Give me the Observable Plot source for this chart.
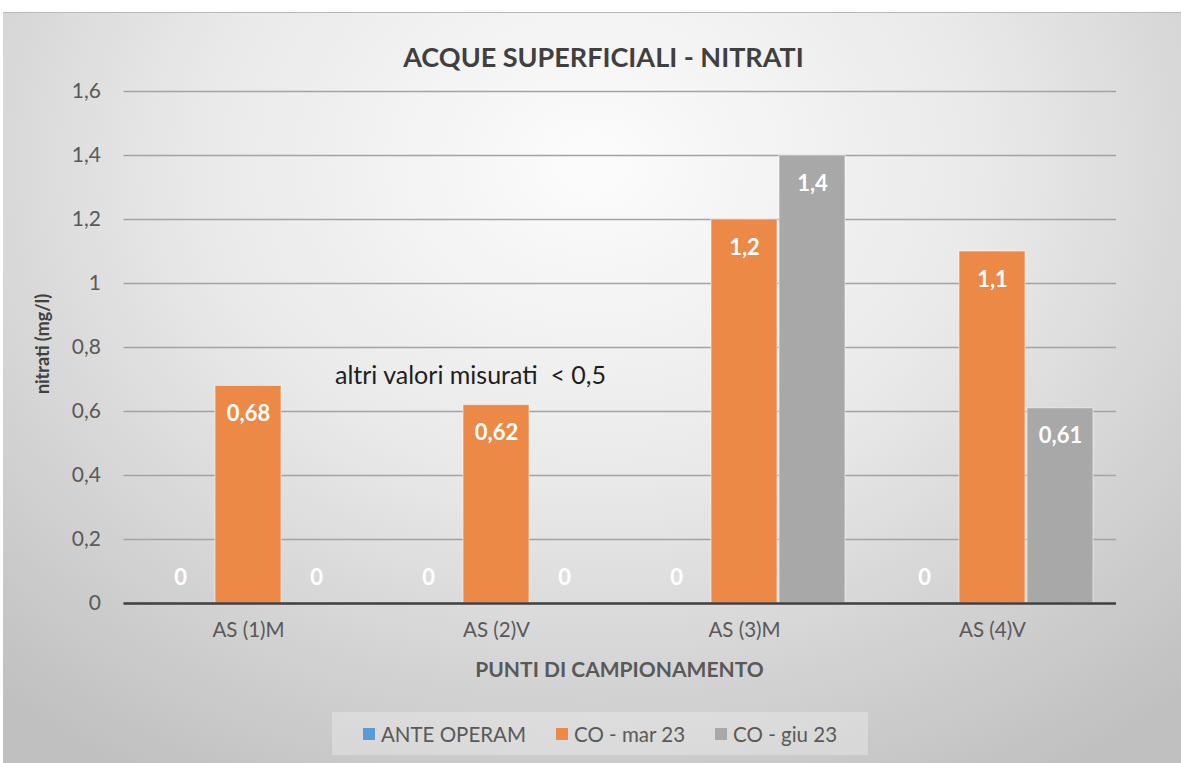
<!DOCTYPE html>
<html>
<head>
<meta charset="utf-8">
<script src="https://cdn.jsdelivr.net/npm/d3@7"></script>
<script src="https://cdn.jsdelivr.net/npm/@observablehq/plot@0.6"></script>
<style>
  html, body { margin: 0; padding: 0; background: #ffffff; }
  #page { position: relative; width: 1181px; height: 763px; overflow: hidden; font-family: Lato, "Open Sans", sans-serif; }
  #bg { position: absolute; left: 3px; top: 12px; width: 1178px; height: 751px;
        background: radial-gradient(ellipse 75% 95% at 50% 20%, #fcfcfc 0%, #e9e9e9 45%, #d2d2d2 75%, #c0c0c0 100%);
        border-top: 1px solid #b8b8b8; }
  #title { position: absolute; top: 40px; left: 0; width: 1207px; text-align: center;
           font-weight: 700; font-size: 27px; line-height: 34px; color: #404040; }
  #ylab { position: absolute; left: 42px; top: 344px; transform: translate(-50%, -50%) rotate(-90deg);
          font-weight: 700; font-size: 18px; color: #404040; white-space: nowrap; }
  #xlab { position: absolute; top: 656px; left: 0; width: 1239px; text-align: center;
          font-weight: 700; font-size: 21px; line-height: 26px; color: #595959; }
  #chart { position: absolute; left: 0; top: 0; }
  #legend { position: absolute; left: 332px; top: 712px; width: 536px; height: 43px;
            background: rgba(255,255,255,0.28); display: flex; align-items: center; justify-content: center;
            gap: 30px; font-size: 20.5px; color: #595959; padding-left: 0; box-sizing: border-box; }
  .item { display: flex; align-items: center; }
  .sw { width: 12px; height: 12px; margin-right: 6px; }
</style>
</head>
<body>
<div id="page">
  <div id="bg"></div>
  <div id="title"></div>
  <div id="chart"></div>
  <div id="ylab"></div>
  <div id="xlab"></div>
  <div id="legend"></div>
</div>
<script>
// ---- data ----
const categories = ["AS (1)M", "AS (2)V", "AS (3)M", "AS (4)V"];
const seriesNames = ["ANTE OPERAM", "CO - mar 23", "CO - giu 23"];
const anteOperam = [0, 0, 0, 0];
const coMar23 = [0.68, 0.62, 1.2, 1.1];
const coGiu23 = [0, 0, 1.4, 0.61];
const yTicks = [0, 0.2, 0.4, 0.6, 0.8, 1.0, 1.2, 1.4, 1.6];
const titleText = "ACQUE SUPERFICIALI - NITRATI";
const yLabel = "nitrati (mg/l)";
const xLabel = "PUNTI DI CAMPIONAMENTO";
const noteText = "altri valori misurati  < 0,5";
const noteCategory = "AS (2)V";
const noteValue = 0.71;

// ---- styling ----
const colors = ["#5b9bd5", "#ec8946", "#a8a8a8"];
const offsets = [-68, 0, 68];
const fmt = v => String(+v.toFixed(2)).replace(".", ",");

const seriesValues = [anteOperam, coMar23, coGiu23];
const rows = seriesValues.map((vals, i) =>
  categories.map((c, j) => ({cat: c, v: vals[j], s: seriesNames[i]})));

const marks = [
  Plot.gridY(yTicks, {stroke: "#a3a3a3", strokeOpacity: 1, strokeWidth: 1.5})
];
rows.forEach((data, i) => {
  marks.push(Plot.barY(data.filter(d => d.v > 0), {
    x: "cat", y: "v", fill: colors[i], dx: offsets[i],
    stroke: "#ffffff", strokeOpacity: 0.55, strokeWidth: 1
  }));
});
marks.push(Plot.ruleY([0], {stroke: "#404040", strokeWidth: 2.5}));
rows.forEach((data, i) => {
  marks.push(Plot.text(data.filter(d => d.v > 0), {
    x: "cat", y: "v", text: d => fmt(d.v), dx: offsets[i], dy: 28,
    fill: "#ffffff", fontWeight: "bold", fontSize: 22
  }));
  marks.push(Plot.text(data.filter(d => d.v === 0), {
    x: "cat", y: "v", text: d => fmt(d.v), dx: offsets[i], dy: -26,
    fill: "#ffffff", fontWeight: "bold", fontSize: 22
  }));
});
marks.push(Plot.text([noteText], {
  x: () => noteCategory, y: () => noteValue, text: d => d, dx: -26,
  fill: "#1e1e1e", fontSize: 25
}));
marks.push(Plot.axisY(yTicks, {tickSize: 0, tickPadding: 23, tickFormat: fmt, fontSize: 21, label: null}));
marks.push(Plot.axisX({tickSize: 0, tickPadding: 19, fontSize: 20.5, label: null}));

const chart = Plot.plot({
  width: 1181,
  height: 700,
  marginLeft: 123.5,
  marginRight: 65,
  marginTop: 91,
  marginBottom: 97,
  style: {background: "transparent", color: "#595959", fontFamily: "Lato, 'Open Sans', sans-serif"},
  x: {domain: categories, paddingInner: 0.734, paddingOuter: 0.367, label: null},
  y: {domain: [0, 1.6], label: null},
  marks
});
document.getElementById("chart").appendChild(chart);

document.getElementById("title").textContent = titleText;
document.getElementById("ylab").textContent = yLabel;
document.getElementById("xlab").textContent = xLabel;

const legend = document.getElementById("legend");
seriesNames.forEach((name, i) => {
  const item = document.createElement("div");
  item.className = "item";
  const sw = document.createElement("div");
  sw.className = "sw";
  sw.style.background = colors[i];
  const t = document.createElement("span");
  t.textContent = name;
  item.appendChild(sw);
  item.appendChild(t);
  legend.appendChild(item);
});
</script>
</body>
</html>
